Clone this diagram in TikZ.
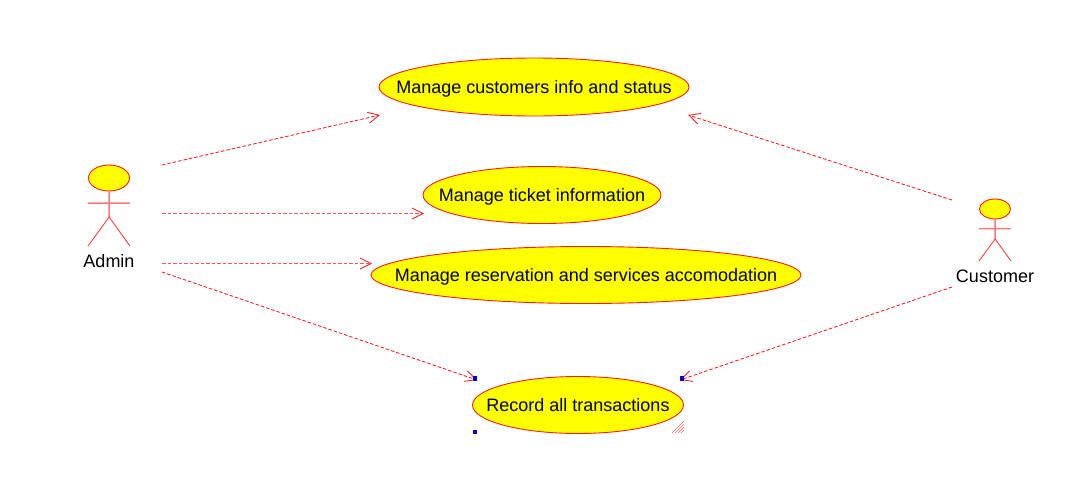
\documentclass[tikz,border=0pt]{standalone}
\usepackage{fontspec}
\setmainfont{Liberation Sans}
\usetikzlibrary{shapes.geometric,arrows.meta}
\definecolor{umlred}{RGB}{245,30,30}
\definecolor{umlyellow}{RGB}{255,255,0}
\definecolor{umlblue}{RGB}{0,0,210}
\newcommand{\uclabel}[1]{\makebox[0pt]{\raisebox{-6pt}[0pt][0pt]{#1}}}
\tikzset{
  usecase/.style={ellipse, draw=umlred, fill=umlyellow, line width=0.9pt, inner sep=0pt, font=\fontsize{18}{20}\selectfont},
  actorhead/.style={ellipse, draw=umlred, fill=umlyellow, line width=0.9pt, inner sep=0pt},
  actorlabel/.style={inner sep=0pt, font=\fontsize{18}{20}\selectfont},
  limb/.style={umlred!60, line width=1.5pt},
  leg/.style={umlred!85, line width=0.9pt},
  dep/.style={umlred, line width=0.85pt, dash pattern=on 3.5pt off 2pt, -{Straight Barb[length=11pt,width=11pt,line width=0.85pt]}},
  depflat/.style={dep, umlred!75, line width=1.2pt, -{Straight Barb[length=11pt,width=11pt,line width=0.85pt,color=umlred]}},
  handle/.style={fill=umlblue, inner sep=0pt, minimum size=4.5pt, rectangle}
}
\begin{document}
\begin{tikzpicture}[x=1pt, y=-1pt]
        \useasboundingbox (0,0) rectangle (1090,477);

        % Use cases
        \node[usecase, minimum width=310pt, minimum height=58pt] (custinfo) at (534,87) {\uclabel{Manage customers info and status}};
        \node[usecase, minimum width=238pt, minimum height=57pt] (ticket) at (542,195) {\uclabel{Manage ticket information}};
        \node[usecase, minimum width=430pt, minimum height=57pt] (reserve) at (586,275) {\uclabel{Manage reservation and services accomodation}};
        \node[usecase, minimum width=211pt, minimum height=57pt] (record) at (578,405) {\uclabel{Record all transactions}};

        % Admin actor
        \node[actorhead, minimum width=41pt, minimum height=26pt] (adminhead) at (109,178) {};
        \coordinate (adminhip) at (109.15,217);
        \coordinate (adminarml) at (88,203);
        \coordinate (adminarmr) at (130,203.15);
        \coordinate (adminlegl) at (88,246);
        \coordinate (adminlegr) at (130,246);
        \draw[limb] (adminhead) -- (adminhip);
        \draw[limb] (adminarml) -- (adminarmr);
        \draw[leg] (adminlegl) -- (adminhip) -- (adminlegr);
        \node[actorlabel] (admin) at (109,261) {Admin};

        % Customer actor
        \node[actorhead, minimum width=31pt, minimum height=20pt] (custhead) at (995,209) {};
        \coordinate (custhip) at (995.15,239);
        \coordinate (custarml) at (979,228.5);
        \coordinate (custarmr) at (1011,228.65);
        \coordinate (custlegl) at (979,261);
        \coordinate (custlegr) at (1011,261);
        \draw[limb] (custhead) -- (custhip);
        \draw[limb] (custarml) -- (custarmr);
        \draw[leg] (custlegl) -- (custhip) -- (custlegr);
        \node[actorlabel] (customer) at (995,276) {Customer};

        % Free ends of the dependencies
        \coordinate (a1) at (162,165);
        \coordinate (a2) at (162,213.5);
        \coordinate (a3) at (162,263.5);
        \coordinate (a4) at (162,272);
        \coordinate (c1) at (952,200);
        \coordinate (c2) at (952,287);
        \coordinate (t1) at (380,115);
        \coordinate (t2) at (424,213.5);
        \coordinate (t3) at (372,263.5);
        \coordinate (t4) at (477,380);
        \coordinate (t5) at (688,115);
        \coordinate (t6) at (680,380);

        % Dependencies
        \draw[dep] (a1) -- (t1);
        \draw[depflat] (a2) -- (t2);
        \draw[depflat] (a3) -- (t3);
        \draw[dep] (a4) -- (t4);
        \draw[dep] (c1) -- (t5);
        \draw[dep] (c2) -- (t6);

        % Selection handles
        \node[handle] (handletl) at (475,378.5) {};
        \node[handle] (handletr) at (682,378.5) {};
        \node[handle] (handlebl) at (475,432) {};
        \foreach \i in {0,3,6,9} {
            \draw[umlred!70, line width=0.6pt] (672+\i,433) -- (684,421+\i);
        }

\end{tikzpicture}
\end{document}
